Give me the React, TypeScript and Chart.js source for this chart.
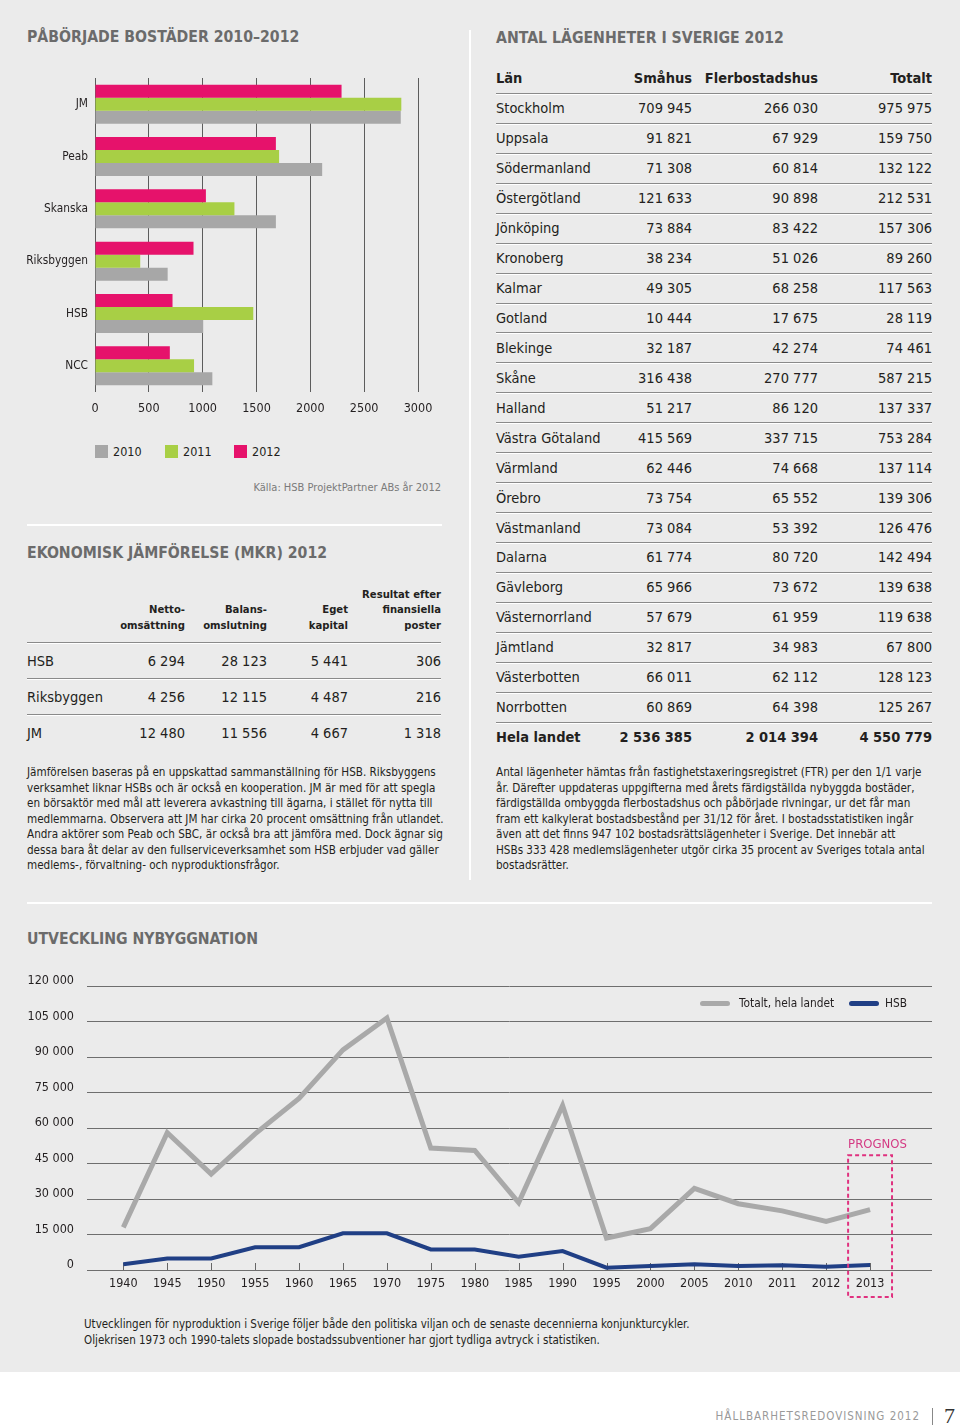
import React, { useEffect, useRef } from "react";
import { Chart, registerables } from "chart.js";

Chart.register(...registerables);

const FONT = '"DejaVu Sans Condensed", "DejaVu Sans", sans-serif';

// ---- Påbörjade bostäder 2010–2012 ----
const companies = ["JM", "Peab", "Skanska", "Riksbyggen", "HSB", "NCC"];
const starts2010 = [2840, 2110, 1680, 675, 1005, 1090];
const starts2011 = [2845, 1710, 1295, 420, 1470, 920];
const starts2012 = [2290, 1680, 1030, 915, 720, 695];
const barYears = ["2010", "2011", "2012"];

// ---- Utveckling nybyggnation ----
const years = ["1940", "1945", "1950", "1955", "1960", "1965", "1970", "1975", "1980", "1985", "1990", "1995", "2000", "2005", "2010", "2011", "2012", "2013"];
const totalBuilt = [18000, 58000, 40500, 57500, 72500, 93000, 106500, 51500, 50500, 28500, 69500, 13500, 17500, 34500, 28000, 25000, 20500, 25500];
const hsbBuilt = [2400, 4900, 4900, 9600, 9600, 15500, 15500, 8700, 8700, 5600, 8000, 1000, 1700, 2400, 1700, 2000, 1400, 2100];
const lineLabels = ["Totalt, hela landet", "HSB"];
const prognosYear = "2013";
const prognosTop = 48500;

// ---- Antal lägenheter i Sverige 2012 ----
const lanHeader = ["Län", "Småhus", "Flerbostadshus", "Totalt"];
const lanNames = ["Stockholm", "Uppsala", "Södermanland", "Östergötland", "Jönköping", "Kronoberg", "Kalmar", "Gotland", "Blekinge", "Skåne", "Halland", "Västra Götaland", "Värmland", "Örebro", "Västmanland", "Dalarna", "Gävleborg", "Västernorrland", "Jämtland", "Västerbotten", "Norrbotten"];
const smahus = [709945, 91821, 71308, 121633, 73884, 38234, 49305, 10444, 32187, 316438, 51217, 415569, 62446, 73754, 73084, 61774, 65966, 57679, 32817, 66011, 60869];
const flerbostad = [266030, 67929, 60814, 90898, 83422, 51026, 68258, 17675, 42274, 270777, 86120, 337715, 74668, 65552, 53392, 80720, 73672, 61959, 34983, 62112, 64398];
const totalt = [975975, 159750, 132122, 212531, 157306, 89260, 117563, 28119, 74461, 587215, 137337, 753284, 137114, 139306, 126476, 142494, 139638, 119638, 67800, 128123, 125267];
const helaLandet = ["Hela landet", 2536385, 2014394, 4550779];

// ---- Ekonomisk jämförelse ----
const ekoHeader = [["Netto-", "omsättning"], ["Balans-", "omslutning"], ["Eget", "kapital"], ["Resultat efter", "finansiella", "poster"]];
const ekoNames = ["HSB", "Riksbyggen", "JM"];
const nettoOms = [6294, 4256, 12480];
const balansOms = [28123, 12115, 11556];
const egetKapital = [5441, 4487, 4667];
const resultat = [306, 216, 1318];

const fmt = (n: number) => String(n).replace(/\B(?=(\d{3})+(?!\d))/g, " ");

const PINK = "#e6126b";
const GREEN = "#a8cf45";
const GRAY = "#a7a7a7";
const LINE_GRAY = "#a9a9a9";
const BLUE = "#203f85";
const TEXT = "#231f20";
const TITLE = "#6b6b6b";
const BG = "#ebebeb";

function BarChart() {
  const ref = useRef<HTMLCanvasElement>(null);
  useEffect(() => {
    if (!ref.current) return;
    const chart = new Chart(ref.current, {
      type: "bar",
      data: {
        labels: companies,
        datasets: [
          { label: barYears[2], data: starts2012, backgroundColor: PINK },
          { label: barYears[1], data: starts2011, backgroundColor: GREEN },
          { label: barYears[0], data: starts2010, backgroundColor: GRAY },
        ],
      },
      options: {
        indexAxis: "y",
        animation: false,
        responsive: false,
        maintainAspectRatio: false,
        layout: { padding: { top: 18, right: 27, left: 0, bottom: 0 } },
        plugins: { legend: { display: false }, tooltip: { enabled: false } },
        datasets: { bar: { categoryPercentage: 0.745, barPercentage: 1 } },
        scales: {
          x: {
            min: 0,
            max: 3000,
            ticks: {
              stepSize: 500,
              padding: 9,
              color: TEXT,
              font: { family: FONT, size: 12.5 },
              callback: (v: any) => String(v),
            },
            grid: { color: "#5c5c5c", lineWidth: 1, drawTicks: false },
            border: { display: false },
            afterFit: (s: any) => { s.height = 30; },
          },
          y: {
            ticks: { padding: 7, color: TEXT, font: { family: FONT, size: 11.8 } },
            grid: { display: false, drawTicks: false },
            border: { display: false },
            afterFit: (s: any) => { s.width = 95; },
          },
        },
      } as any,
    });
    return () => chart.destroy();
  }, []);
  return (
    <canvas
      ref={ref}
      width={445}
      height={362}
      style={{ position: "absolute", left: 0, top: 60, width: 445, height: 362 }}
    />
  );
}

const tickMarks = {
  id: "tickMarks",
  beforeDatasetsDraw(chart: any) {
    const { ctx, chartArea, scales } = chart;
    ctx.save();
    ctx.strokeStyle = "#666";
    ctx.lineWidth = 1;
    years.forEach((_, i) => {
      const px = Math.round(scales.x.getPixelForValue(i)) + 0.5;
      ctx.beginPath();
      ctx.moveTo(px, chartArea.bottom);
      ctx.lineTo(px, chartArea.bottom - 7);
      ctx.stroke();
    });
    ctx.restore();
  },
};

const prognosBox = {
  id: "prognosBox",
  afterDatasetsDraw(chart: any) {
    const { ctx, chartArea, scales } = chart;
    const i = years.indexOf(prognosYear);
    const left = scales.x.getPixelForValue(i - 0.5);
    const right = scales.x.getPixelForValue(i + 0.5);
    const top = scales.y.getPixelForValue(prognosTop);
    const bottom = chartArea.bottom + 27;
    ctx.save();
    ctx.setLineDash([4, 3]);
    ctx.strokeStyle = "#e0317f";
    ctx.lineWidth = 2;
    ctx.strokeRect(left, top, right - left, bottom - top);
    ctx.setLineDash([]);
    ctx.fillStyle = "#d43a83";
    ctx.font = `13px ${FONT}`;
    ctx.textBaseline = "alphabetic";
    ctx.textAlign = "left";
    ctx.fillText("PROGNOS", left, top - 7);
    ctx.restore();
  },
};

function LineChart() {
  const ref = useRef<HTMLCanvasElement>(null);
  useEffect(() => {
    if (!ref.current) return;
    const chart = new Chart(ref.current, {
      type: "line",
      data: {
        datasets: [
          {
            label: lineLabels[0],
            data: totalBuilt.map((v, i) => ({ x: i, y: v })),
            borderColor: LINE_GRAY,
            borderWidth: 5,
            pointRadius: 0,
            tension: 0,
            borderJoinStyle: "miter",
          },
          {
            label: lineLabels[1],
            data: hsbBuilt.map((v, i) => ({ x: i, y: v })),
            borderColor: BLUE,
            borderWidth: 4,
            pointRadius: 0,
            tension: 0,
            borderJoinStyle: "miter",
          },
        ],
      },
      options: {
        animation: false,
        responsive: false,
        maintainAspectRatio: false,
        layout: { padding: { top: 26, right: 28, left: 0, bottom: 0 } },
        plugins: { legend: { display: false }, tooltip: { enabled: false } },
        scales: {
          x: {
            type: "linear",
            min: -0.827,
            max: 18.41,
            ticks: {
              stepSize: 1,
              includeBounds: false,
              autoSkip: false,
              maxRotation: 0,
              padding: 6,
              color: TEXT,
              font: { family: FONT, size: 12.5 },
              callback: (v: any) => (Number.isInteger(v) && years[v] ? years[v] : ""),
            },
            grid: { display: false, drawTicks: false },
            border: { display: false },
            afterFit: (s: any) => { s.height = 30; },
          },
          y: {
            min: 0,
            max: 120000,
            ticks: {
              stepSize: 15000,
              padding: 13,
              labelOffset: -5,
              color: TEXT,
              font: { family: FONT, size: 12.5 },
              callback: (v: any) => fmt(Number(v)),
            },
            grid: { color: "#6e6e6e", lineWidth: 1, drawTicks: false },
            border: { display: false },
            afterFit: (s: any) => { s.width = 87; },
          },
        },
      } as any,
      plugins: [tickMarks, prognosBox],
    });
    return () => chart.destroy();
  }, []);
  return (
    <canvas
      ref={ref}
      width={960}
      height={340}
      style={{ position: "absolute", left: 0, top: 960, width: 960, height: 340 }}
    />
  );
}

const abs = (s: React.CSSProperties): React.CSSProperties => ({ position: "absolute", ...s });

const titleStyle: React.CSSProperties = {
  fontFamily: FONT,
  fontWeight: 700,
  fontSize: 15.7,
  lineHeight: "20px",
  color: TITLE,
  whiteSpace: "nowrap",
};

const lineBorder: React.CSSProperties = {
  borderTop: "1px solid #8a8a8a",
  boxShadow: "inset 0 1px 0 #ffffff",
};

function LanTable() {
  const rowH = 29.95;
  const cols = [
    { w: 100, align: "left" as const },
    { w: 96, align: "right" as const },
    { w: 126, align: "right" as const },
    { w: 114, align: "right" as const },
  ];
  const rows: (string | number)[][] = lanNames.map((n, i) => [n, smahus[i], flerbostad[i], totalt[i]]);
  const renderRow = (cells: (string | number)[], bold: boolean, key: string, withLine: boolean) => (
    <div
      key={key}
      style={{
        display: "flex",
        height: rowH,
        boxSizing: "border-box",
        alignItems: "center",
        ...(withLine ? lineBorder : {}),
        fontWeight: bold ? 700 : 400,
      }}
    >
      {cells.map((c, j) => (
        <div key={j} style={{ width: cols[j].w, textAlign: cols[j].align, whiteSpace: "nowrap" }}>
          {typeof c === "number" ? fmt(c) : c}
        </div>
      ))}
    </div>
  );
  return (
    <div style={abs({ left: 496, top: 63, width: 436, fontFamily: FONT, fontSize: 14.5, color: TEXT })}>
      {renderRow(lanHeader, true, "h", false)}
      {rows.map((r, i) => renderRow(r, false, "r" + i, true))}
      {renderRow(helaLandet, true, "t", true)}
    </div>
  );
}

function EkoTable() {
  const widths = [78, 80, 82, 81, 93];
  const values = ekoNames.map((n, i) => [n, nettoOms[i], balansOms[i], egetKapital[i], resultat[i]]);
  return (
    <div style={abs({ left: 27, top: 0, width: 414, fontFamily: FONT, color: TEXT })}>
      <div style={abs({ left: 0, top: 586, width: 414, height: 47, display: "flex", alignItems: "flex-end", fontWeight: 700, fontSize: 11.2, lineHeight: "15.5px" })}>
        <div style={{ width: widths[0] }} />
        {ekoHeader.map((h, j) => (
          <div key={j} style={{ width: widths[j + 1], textAlign: "right", whiteSpace: "nowrap" }}>
            {h.map((l, k) => (
              <div key={k}>{l}</div>
            ))}
          </div>
        ))}
      </div>
      <div style={abs({ left: 0, top: 642, width: 414 })}>
        {values.map((r, i) => (
          <div key={i} style={{ display: "flex", height: 36, boxSizing: "border-box", alignItems: "center", fontSize: 14.5, ...lineBorder }}>
            {r.map((c, j) => (
              <div key={j} style={{ width: widths[j], textAlign: j === 0 ? "left" : "right", whiteSpace: "nowrap" }}>
                {typeof c === "number" ? fmt(c) : c}
              </div>
            ))}
          </div>
        ))}
      </div>
    </div>
  );
}

const paraStyle: React.CSSProperties = {
  fontFamily: FONT,
  fontSize: 11.6,
  lineHeight: "15.5px",
  color: TEXT,
  whiteSpace: "nowrap",
};

const leftPara = [
  "Jämförelsen baseras på en uppskattad sammanställning för HSB. Riksbyggens",
  "verksamhet liknar HSBs och är också en kooperation. JM är med för att spegla",
  "en börsaktör med mål att leverera avkastning till ägarna, i stället för nytta till",
  "medlemmarna. Observera att JM har cirka 20 procent omsättning från utlandet.",
  "Andra aktörer som Peab och SBC, är också bra att jämföra med. Dock ägnar sig",
  "dessa bara åt delar av den fullserviceverksamhet som HSB erbjuder vad gäller",
  "medlems-, förvaltning- och nyproduktionsfrågor.",
];
const rightPara = [
  "Antal lägenheter hämtas från fastighetstaxeringsregistret (FTR) per den 1/1 varje",
  "år. Därefter uppdateras uppgifterna med årets färdigställda nybyggda bostäder,",
  "färdigställda ombyggda flerbostadshus och påbörjade rivningar, ur det får man",
  "fram ett kalkylerat bostadsbestånd per 31/12 för året. I bostadsstatistiken ingår",
  "även att det finns 947 102 bostadsrättslägenheter i Sverige. Det innebär att",
  "HSBs 333 428 medlemslägenheter utgör cirka 35 procent av Sveriges totala antal",
  "bostadsrätter.",
];
const bottomPara = [
  "Utvecklingen för nyproduktion i Sverige följer både den politiska viljan och de senaste decennierna konjunkturcykler.",
  "Oljekrisen 1973 och 1990-talets slopade bostadssubventioner har gjort tydliga avtryck i statistiken.",
];

export default function App() {
  const barLegendColors = [GRAY, GREEN, PINK];
  const barLegendX = [95, 165, 234];
  return (
    <div style={{ position: "absolute", left: 0, top: 0, width: 960, height: 1425, overflow: "hidden", background: "#ffffff" }}>
      <div style={abs({ left: 0, top: 0, width: 960, height: 1372, background: BG })} />

      <div style={abs({ left: 27, top: 27, ...titleStyle })}>PÅBÖRJADE BOSTÄDER 2010–2012</div>
      <div style={abs({ left: 496, top: 28, ...titleStyle })}>ANTAL LÄGENHETER I SVERIGE 2012</div>
      <div style={abs({ left: 469, top: 30, width: 2, height: 850, background: "#ffffff" })} />

      <BarChart />

      {barYears.map((y, i) => (
        <React.Fragment key={y}>
          <div style={abs({ left: barLegendX[i], top: 445, width: 13, height: 13, background: barLegendColors[i] })} />
          <div style={abs({ left: barLegendX[i] + 18, top: 443, fontFamily: FONT, fontSize: 12.5, lineHeight: "17px", color: TEXT })}>{y}</div>
        </React.Fragment>
      ))}
      <div style={abs({ left: 200, top: 480, width: 241, textAlign: "right", fontFamily: FONT, fontSize: 11, lineHeight: "16px", color: "#7a7a7a", whiteSpace: "nowrap" })}>
        Källa: HSB ProjektPartner ABs år 2012
      </div>
      <div style={abs({ left: 27, top: 524, width: 415, height: 2, background: "#ffffff" })} />

      <div style={abs({ left: 27, top: 543, ...titleStyle })}>EKONOMISK JÄMFÖRELSE (MKR) 2012</div>
      <EkoTable />

      <LanTable />

      <div style={abs({ left: 27, top: 765, ...paraStyle })}>
        {leftPara.map((l, i) => (<div key={i}>{l}</div>))}
      </div>
      <div style={abs({ left: 496, top: 765, ...paraStyle })}>
        {rightPara.map((l, i) => (<div key={i}>{l}</div>))}
      </div>

      <div style={abs({ left: 27, top: 902, width: 905, height: 2, background: "#ffffff" })} />
      <div style={abs({ left: 27, top: 929, ...titleStyle })}>UTVECKLING NYBYGGNATION</div>

      <LineChart />

      <div style={abs({ left: 700, top: 1001, width: 30, height: 5, borderRadius: 3, background: LINE_GRAY })} />
      <div style={abs({ left: 739, top: 995, fontFamily: FONT, fontSize: 11.8, lineHeight: "17px", color: TEXT, whiteSpace: "nowrap" })}>{lineLabels[0]}</div>
      <div style={abs({ left: 849, top: 1001, width: 30, height: 5, borderRadius: 3, background: BLUE })} />
      <div style={abs({ left: 885, top: 995, fontFamily: FONT, fontSize: 11.8, lineHeight: "17px", color: TEXT, whiteSpace: "nowrap" })}>{lineLabels[1]}</div>

      <div style={abs({ left: 84, top: 1316, ...paraStyle, fontSize: 11.5, lineHeight: "16px" })}>
        {bottomPara.map((l, i) => (<div key={i}>{l}</div>))}
      </div>

      <div style={abs({ left: 600, top: 1408, width: 320, textAlign: "right", fontFamily: FONT, fontSize: 11.5, lineHeight: "16px", letterSpacing: 1, color: "#9a9a9a", whiteSpace: "nowrap" })}>
        HÅLLBARHETSREDOVISNING 2012
      </div>
      <div style={abs({ left: 932, top: 1408, width: 1, height: 17, background: "#888" })} />
      <div style={abs({ left: 944, top: 1403, fontFamily: '"Liberation Serif", "DejaVu Serif", serif', fontSize: 22, lineHeight: "26px", color: "#333" })}>7</div>
    </div>
  );
}
